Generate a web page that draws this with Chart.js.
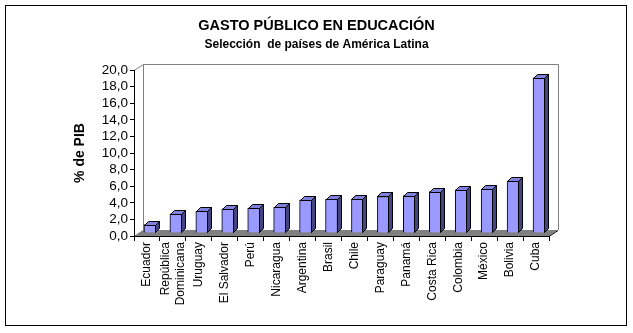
<!DOCTYPE html>
<html lang="es">
<head>
<meta charset="utf-8">
<title>Gasto público en educación</title>
<script src="https://cdn.jsdelivr.net/npm/chart.js@4.4.1/dist/chart.umd.min.js"></script>
<style>
  html, body { margin: 0; padding: 0; background: #fff; }
  canvas { display: block; }
</style>
</head>
<body>
<canvas id="gasto" width="633" height="333"></canvas>
<script>
// gasto público en educación, % del PIB
const paises = [
    'Ecuador', ['República', 'Dominicana'], 'Uruguay', 'El Salvador', 'Perú',
    'Nicaragua', 'Argentina', 'Brasil', 'Chile', 'Paraguay', 'Panamá',
    'Costa Rica', 'Colombia', 'México', 'Bolivia', 'Cuba'
];
const gastoPib = [1.0, 2.3, 2.6, 2.9, 3.0, 3.1, 4.0, 4.1, 4.1, 4.4, 4.5, 5.0, 5.2, 5.3, 6.3, 18.7];
const ejeMin = 0;
const ejeMax = 20;
const ejePaso = 2;

const titulo = 'GASTO PÚBLICO EN EDUCACIÓN';
const subtitulo = 'Selección  de países de América Latina';
const tituloEje = '% de PIB';

const FUENTE = '"Liberation Sans", Arial, sans-serif';

// profundidad de la caja 3D (pared y piso) y de cada columna
const PROF_X = 9, PROF_Y = 6;
const DESPL = 3;
const PROF_BARRA = 4;

const colFrente = '#9999ff';
const colArriba = '#8080dd';
const colLado = '#444480';

const caja3d = {
    id: 'caja3d',
    beforeDraw(chart) {
        const { ctx, width, height } = chart;
        const { left, right, top, bottom } = chart.chartArea;
        ctx.save();
        ctx.fillStyle = '#fff';
        ctx.fillRect(0, 0, width, height);
        ctx.strokeStyle = '#000';
        ctx.lineWidth = 1;
        ctx.strokeRect(5.5, 5.5, 621, 320);

        // piso gris
        ctx.fillStyle = '#808080';
        ctx.beginPath();
        ctx.moveTo(left, bottom);
        ctx.lineTo(right, bottom);
        ctx.lineTo(right + PROF_X, bottom - PROF_Y);
        ctx.lineTo(left + PROF_X, bottom - PROF_Y);
        ctx.closePath();
        ctx.fill();
        ctx.strokeStyle = '#000';
        ctx.beginPath();
        ctx.moveTo(right, bottom + 0.5);
        ctx.lineTo(right + PROF_X, bottom - PROF_Y + 0.5);
        ctx.stroke();

        // pared del fondo
        ctx.strokeStyle = '#808080';
        ctx.beginPath();
        ctx.moveTo(left, top + 0.5);
        ctx.lineTo(left + PROF_X + 0.5, top - PROF_Y + 0.5);
        ctx.lineTo(right + PROF_X + 0.5, top - PROF_Y + 0.5);
        ctx.lineTo(right + PROF_X + 0.5, bottom - PROF_Y);
        ctx.moveTo(left + PROF_X + 0.5, top - PROF_Y + 0.5);
        ctx.lineTo(left + PROF_X + 0.5, bottom - PROF_Y);
        ctx.stroke();
        ctx.restore();
    },
    beforeDatasetsDraw(chart) {
        chart.ctx.save();
        chart.ctx.translate(DESPL, -DESPL);
    },
    afterDatasetsDraw(chart) {
        const ctx = chart.ctx;
        const meta = chart.getDatasetMeta(0);
        ctx.strokeStyle = '#000';
        ctx.lineWidth = 1;
        meta.data.forEach(barra => {
            const { x, y, base, width } = barra.getProps(['x', 'y', 'base', 'width'], true);
            const x0 = Math.round(x - width / 2) + 0.5;
            const x1 = Math.round(x + width / 2) - 0.5;
            const yt = Math.round(y) + 0.5;
            const yb = Math.round(base) - 0.5;
            // cara superior
            ctx.fillStyle = colArriba;
            ctx.beginPath();
            ctx.moveTo(x0, yt);
            ctx.lineTo(x0 + PROF_BARRA, yt - PROF_BARRA);
            ctx.lineTo(x1 + PROF_BARRA, yt - PROF_BARRA);
            ctx.lineTo(x1, yt);
            ctx.closePath();
            ctx.fill();
            ctx.stroke();
            // cara lateral
            ctx.fillStyle = colLado;
            ctx.beginPath();
            ctx.moveTo(x1, yt);
            ctx.lineTo(x1 + PROF_BARRA, yt - PROF_BARRA);
            ctx.lineTo(x1 + PROF_BARRA, yb - PROF_BARRA);
            ctx.lineTo(x1, yb);
            ctx.closePath();
            ctx.fill();
            ctx.stroke();
        });
        ctx.restore();
    },
    // nombres de países en vertical, con las dos líneas centradas en la columna
    afterDraw(chart) {
        const ctx = chart.ctx;
        const xs = chart.scales.x;
        ctx.save();
        ctx.font = '12px ' + FUENTE;
        ctx.fillStyle = '#000';
        ctx.textAlign = 'right';
        ctx.textBaseline = 'middle';
        paises.forEach((p, i) => {
            const lineas = Array.isArray(p) ? p : [p];
            const cx = xs.getPixelForValue(i);
            lineas.forEach((t, j) => {
                const off = (j - (lineas.length - 1) / 2) * 15;
                ctx.save();
                ctx.translate(cx + off, xs.top + 6);
                ctx.rotate(-Math.PI / 2);
                ctx.fillText(t, 0, 0);
                ctx.restore();
            });
        });
        ctx.restore();
    }
};

Chart.defaults.font.family = FUENTE;
Chart.defaults.color = '#000';

new Chart(document.getElementById('gasto'), {
    type: 'bar',
    data: {
        labels: paises,
        datasets: [{
            data: gastoPib,
            backgroundColor: colFrente,
            borderColor: '#000',
            borderWidth: 1,
            barThickness: 12,
            clip: false
        }]
    },
    options: {
        responsive: false,
        animation: false,
        events: [],
        layout: { padding: 0 },
        plugins: {
            legend: { display: false },
            tooltip: { enabled: false },
            title: {
                display: true,
                text: titulo,
                font: { size: 14.5, weight: 'bold' },
                color: '#000',
                padding: { top: 17.3, bottom: 0 }
            },
            subtitle: {
                display: true,
                text: subtitulo,
                font: { size: 12, weight: 'bold' },
                color: '#000',
                padding: { top: 2.6, bottom: 18.3 }
            }
        },
        scales: {
            x: {
                offset: true,
                grid: {
                    offset: true,
                    drawOnChartArea: false,
                    tickLength: 5,
                    tickColor: '#000'
                },
                border: { display: true, color: '#000', width: 1 },
                ticks: { display: false },
                afterFit(scale) { scale.height = 97; }
            },
            y: {
                min: ejeMin,
                max: ejeMax,
                grid: {
                    drawOnChartArea: false,
                    tickLength: 4,
                    tickColor: '#000'
                },
                border: { display: true, color: '#000', width: 1 },
                ticks: {
                    stepSize: ejePaso,
                    autoSkip: false,
                    padding: 2,
                    font: { size: 13.5 },
                    color: '#000',
                    callback: v => v.toFixed(1).replace('.', ',')
                },
                title: {
                    display: true,
                    text: tituloEje,
                    font: { size: 14, weight: 'bold' },
                    color: '#000',
                    padding: { top: 71.6, bottom: 0 }
                },
                afterFit(scale) { scale.width = 134; }
            },
            // margen derecho del área de trazado
            margen: {
                type: 'linear',
                position: 'right',
                grid: { display: false },
                border: { display: false },
                ticks: { display: false },
                afterFit(scale) { scale.width = 84; }
            }
        }
    },
    plugins: [caja3d]
});
</script>
</body>
</html>
